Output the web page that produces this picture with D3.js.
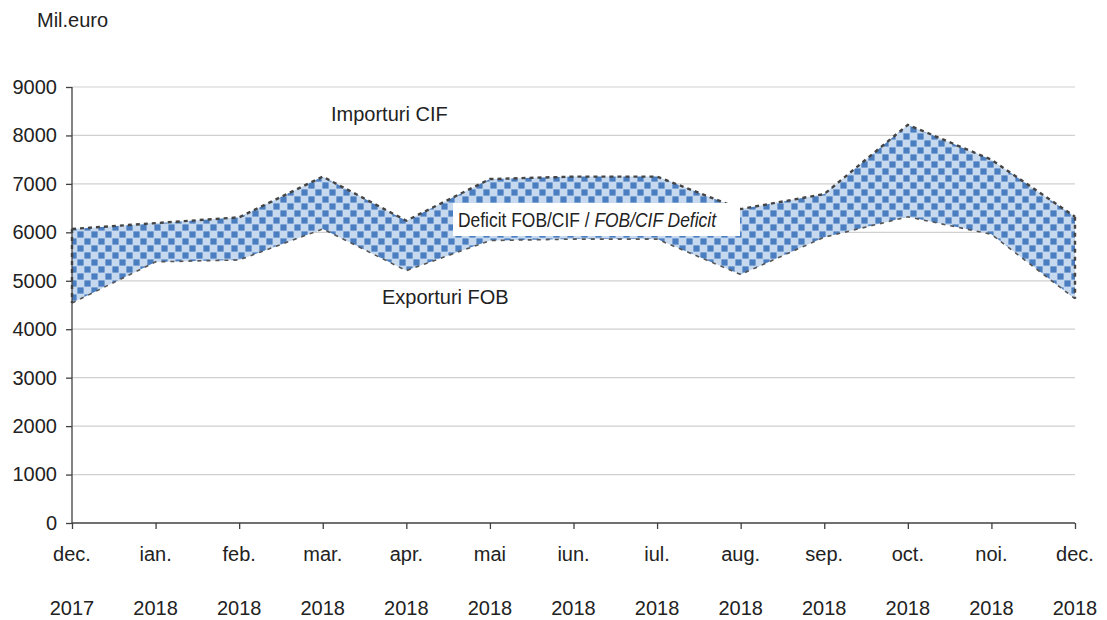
<!DOCTYPE html>
<html><head><meta charset="utf-8">
<script src="https://cdn.jsdelivr.net/npm/d3@7"></script>
<style>body{margin:0;background:#fff}svg{display:block}</style>
</head><body>
<svg id="c" width="1107" height="620"></svg>
<script>
const months = ["dec.","ian.","feb.","mar.","apr.","mai","iun.","iul.","aug.","sep.","oct.","noi.","dec."];
const years = ["2017","2018","2018","2018","2018","2018","2018","2018","2018","2018","2018","2018","2018"];
const imports = [6070,6190,6310,7150,6240,7100,7150,7150,6480,6790,8220,7500,6320];
const exports = [4540,5390,5430,6070,5210,5830,5860,5860,5130,5900,6320,5960,4630];
const yTicks = [0,1000,2000,3000,4000,5000,6000,7000,8000,9000];

const svg = d3.select("#c");
const font = "'Liberation Sans', Arial, sans-serif";
const FS = 20;
const L = 72, R = 1075, T = 87, B = 523;
const x = d3.scalePoint().domain(d3.range(months.length)).range([L, R]);
const y = d3.scaleLinear().domain([0, 9000]).range([B, T]);

// pattern
const defs = svg.append("defs");
const P = 14, S = 6.2;
const p = defs.append("pattern").attr("id","chk").attr("patternUnits","userSpaceOnUse")
  .attr("width",P).attr("height",P);
p.append("rect").attr("width",P).attr("height",P).attr("fill","#c6d9ef");
p.append("rect").attr("x",0.4).attr("y",0.4).attr("width",S).attr("height",S).attr("fill","#4a7ec1");
p.append("rect").attr("x",P/2+0.4).attr("y",P/2+0.4).attr("width",S).attr("height",S).attr("fill","#4a7ec1");

// gridlines
svg.append("g").selectAll("line").data(yTicks.filter(d=>d>0)).join("line")
  .attr("x1",L).attr("x2",R).attr("y1",d=>y(d)).attr("y2",d=>y(d))
  .attr("stroke","#d0d0d0").attr("stroke-width",1.2);

// area
const idx = d3.range(months.length);
svg.append("path").datum(idx)
  .attr("d", d3.area().x(i=>x(i)).y0(i=>y(exports[i])).y1(i=>y(imports[i])))
  .attr("fill","url(#chk)");

// lines
svg.append("path").datum(idx)
  .attr("d", d3.line().x(i=>x(i)).y(i=>y(imports[i])))
  .attr("fill","none").attr("stroke","#444").attr("stroke-width",2.4).attr("stroke-dasharray","4,4");
svg.append("path").datum(idx)
  .attr("d", d3.line().x(i=>x(i)).y(i=>y(exports[i])))
  .attr("fill","none").attr("stroke","#555").attr("stroke-width",1.6).attr("stroke-dasharray","4,5");
// end edges
[0, months.length-1].forEach(i=>{
  svg.append("line").attr("x1",x(i)).attr("x2",x(i)).attr("y1",y(imports[i])).attr("y2",y(exports[i]))
    .attr("stroke","#444").attr("stroke-width",2.4).attr("stroke-dasharray","4,4");
});

// axes
const yAxis = svg.append("g").attr("transform",`translate(${L},0)`)
  .call(d3.axisLeft(y).tickValues(yTicks).tickSize(6).tickPadding(9).tickFormat(d3.format("d")));
const xAxis = svg.append("g").attr("transform",`translate(0,${B})`)
  .call(d3.axisBottom(x).tickSize(6).tickFormat(""));
[yAxis, xAxis].forEach(g=>{
  g.select(".domain").attr("stroke","#404040").attr("stroke-width",1.3);
  g.selectAll(".tick line").attr("stroke","#404040").attr("stroke-width",1.3);
});
xAxis.select(".domain").attr("d",`M${L},0H${R}`);
yAxis.select(".domain").attr("d",`M0,${B}V${T}`);
yAxis.selectAll(".tick text").attr("font-family",font).attr("font-size",FS).attr("fill","#222");

svg.append("g").selectAll("text").data(idx).join("text")
  .attr("x",i=>x(i)).attr("y",561).attr("text-anchor","middle")
  .attr("font-family",font).attr("font-size",FS).attr("fill","#222").text(i=>months[i]);
svg.append("g").selectAll("text").data(idx).join("text")
  .attr("x",i=>x(i)).attr("y",615).attr("text-anchor","middle")
  .attr("font-family",font).attr("font-size",FS).attr("fill","#222").text(i=>years[i]);

// titles and labels
svg.append("text").attr("x",37).attr("y",27).attr("font-family",font).attr("font-size",FS)
  .attr("fill","#222").text("Mil.euro");
svg.append("text").attr("x",331).attr("y",121).attr("font-family",font).attr("font-size",FS)
  .attr("fill","#222").text("Importuri CIF");
svg.append("text").attr("x",382).attr("y",304).attr("font-family",font).attr("font-size",FS)
  .attr("fill","#222").text("Exporturi FOB");

// legend box
svg.append("rect").attr("x",453).attr("y",203).attr("width",287).attr("height",33).attr("fill","#fff");
const lg = svg.append("g");
const lt = lg.append("text").attr("x",0).attr("y",0)
  .attr("font-family",font).attr("font-size",FS).attr("fill","#222");
lt.append("tspan").text("Deficit FOB/CIF / ");
lt.append("tspan").attr("font-style","italic").text("FOB/CIF Deficit");
const w = lt.node().getComputedTextLength();
lg.attr("transform",`translate(458,227) scale(${258/w},1)`);
</script>
</body></html>
